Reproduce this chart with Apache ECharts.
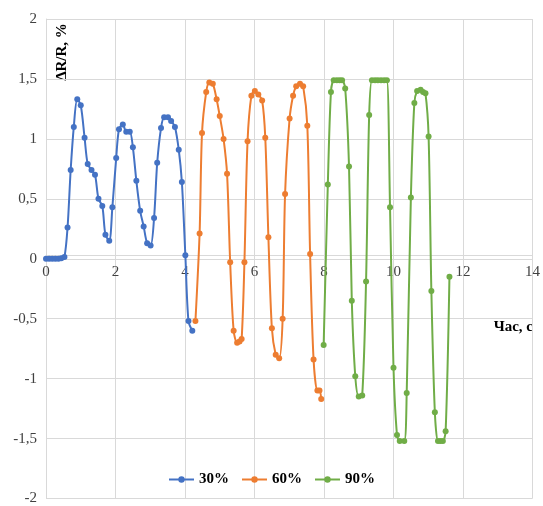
<!DOCTYPE html>
<html>
<head>
<meta charset="utf-8">
<script src="https://cdn.jsdelivr.net/npm/echarts@6/dist/echarts.min.js"></script>
<style>
html,body{margin:0;padding:0;background:#fff;}
#chart{width:543px;height:506px;}
</style>
</head>
<body>
<div id="chart"></div>
<script>
var seriesNames = ['30%', '60%', '90%'];
var x30 = [0,0.09,0.18,0.27,0.36,0.44,0.53,0.62,0.71,0.80,0.90,1.00,1.11,1.20,1.31,1.41,1.51,1.62,1.71,1.82,1.91,2.02,2.10,2.21,2.31,2.41,2.50,2.60,2.71,2.81,2.91,3.01,3.11,3.20,3.31,3.40,3.51,3.60,3.71,3.82,3.91,4.01,4.10,4.21];
var y30 = [0,0,0,0,0,0.005,0.015,0.26,0.74,1.10,1.33,1.28,1.01,0.79,0.74,0.70,0.50,0.44,0.20,0.15,0.43,0.84,1.08,1.12,1.06,1.06,0.93,0.65,0.40,0.27,0.13,0.11,0.34,0.80,1.09,1.18,1.18,1.15,1.10,0.91,0.64,0.03,-0.52,-0.60];
var x60 = [4.30,4.42,4.49,4.61,4.70,4.80,4.91,5.00,5.11,5.21,5.30,5.40,5.50,5.57,5.63,5.71,5.80,5.91,6.01,6.11,6.22,6.31,6.40,6.50,6.61,6.71,6.81,6.88,7.01,7.11,7.20,7.31,7.40,7.52,7.60,7.70,7.81,7.87,7.92];
var y60 = [-0.52,0.21,1.05,1.39,1.47,1.46,1.33,1.19,1.00,0.71,-0.03,-0.60,-0.70,-0.69,-0.67,-0.03,0.98,1.36,1.40,1.37,1.32,1.01,0.18,-0.58,-0.80,-0.83,-0.50,0.54,1.17,1.36,1.44,1.46,1.44,1.11,0.04,-0.84,-1.10,-1.10,-1.17];
var x90 = [7.99,8.11,8.20,8.28,8.37,8.45,8.52,8.61,8.72,8.80,8.90,9.00,9.10,9.21,9.30,9.38,9.47,9.55,9.64,9.73,9.81,9.90,10.00,10.10,10.18,10.31,10.38,10.50,10.60,10.68,10.78,10.85,10.92,11.01,11.09,11.19,11.28,11.35,11.42,11.50,11.61];
var y90 = [-0.72,0.62,1.39,1.49,1.49,1.49,1.49,1.42,0.77,-0.35,-0.98,-1.15,-1.14,-0.19,1.20,1.49,1.49,1.49,1.49,1.49,1.49,0.43,-0.91,-1.47,-1.52,-1.52,-1.12,0.51,1.30,1.40,1.41,1.39,1.38,1.02,-0.27,-1.28,-1.52,-1.52,-1.52,-1.44,-0.15];
var colors = ['#4472C4', '#ED7D31', '#70AD47'];
var xTitle = 'Час, с';
var yTitle = 'ΔR/R, %';

function pairs(xs, ys) { return xs.map(function (v, i) { return [v, ys[i]]; }); }
var allData = [pairs(x30, y30), pairs(x60, y60), pairs(x90, y90)];
var FONT = '"Liberation Serif", "Times New Roman", serif';

var GRID_TOP = 19, GRID_BOTTOM = 0, H = 506;
// distance from the bottom of the grid to the y = 0 line (y range is symmetric)
var zeroOffset = (H - GRID_TOP - GRID_BOTTOM) / 2;

var chart = echarts.init(document.getElementById('chart'), null, {renderer: 'canvas'});
chart.setOption({
  animation: false,
  color: colors,
  grid: {left: 46, right: 9, top: GRID_TOP, bottom: GRID_BOTTOM, containLabel: false},
  xAxis: {
    type: 'value', min: 0, max: 14, interval: 2, position: 'bottom', offset: -zeroOffset,
    axisLine: {show: true, onZero: false, lineStyle: {color: '#d9d9d9', width: 1}},
    axisTick: {show: false},
    axisLabel: {color: '#404040', fontFamily: FONT, fontSize: 15, margin: 10},
    splitLine: {show: true, lineStyle: {color: '#d9d9d9', width: 1}}
  },
  yAxis: {
    type: 'value', min: -2, max: 2, interval: 0.5,
    axisLine: {show: true, onZero: false, lineStyle: {color: '#d9d9d9', width: 1}},
    axisTick: {show: false},
    axisLabel: {color: '#404040', fontFamily: FONT, fontSize: 15, margin: 9,
      formatter: function (v) { return String(v).replace('.', ','); }},
    splitLine: {show: true, lineStyle: {color: '#d9d9d9', width: 1}}
  },
  legend: {
    bottom: 14, left: 'center', itemWidth: 25, itemHeight: 8, itemGap: 12,
    textStyle: {fontFamily: FONT, fontSize: 15, fontWeight: 'bold', color: '#000'},
    data: seriesNames
  },
  graphic: [
    {type: 'text', right: 10, top: 320, style: {text: xTitle, font: 'bold 15px ' + FONT, fill: '#000'}},
    {type: 'text', x: 62, y: 52, rotation: Math.PI / 2,
      style: {text: yTitle, font: 'bold 15px ' + FONT, fill: '#000', align: 'center', verticalAlign: 'middle'}}
  ],
  series: allData.map(function (d, i) {
    return {
      name: seriesNames[i], type: 'line', data: d, smooth: 0.3,
      symbol: 'circle', symbolSize: 6,
      lineStyle: {width: 2, color: colors[i]},
      itemStyle: {color: colors[i]}
    };
  })
});
</script>
</body>
</html>
